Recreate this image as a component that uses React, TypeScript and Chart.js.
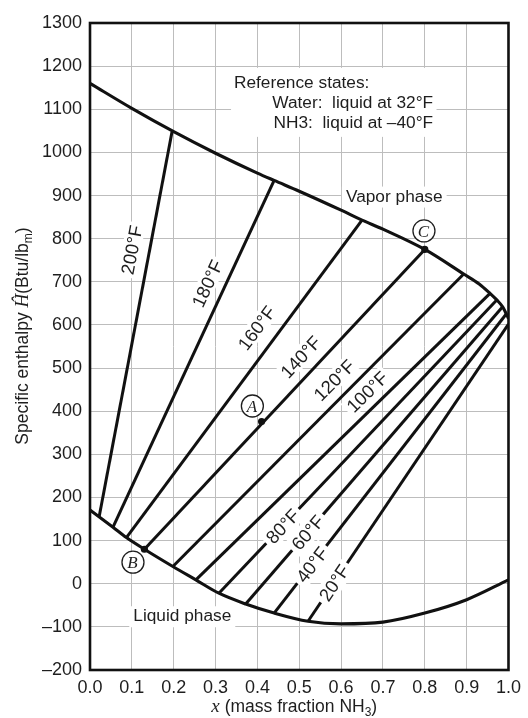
import React, { useEffect, useRef } from "react";
import { Chart, registerables } from "chart.js";

Chart.register(...registerables);

// ---- Data ----
const vaporX = [0, 0.1, 0.2, 0.3, 0.4, 0.44, 0.5, 0.6, 0.65, 0.7, 0.8, 0.893, 0.93, 0.956, 0.972, 0.986, 1.0];
const vaporY = [1160, 1102, 1048, 998, 952, 935, 910, 866, 843, 822, 775, 718, 695, 673, 658, 642, 615];

const liquidX = [0, 0.055, 0.087, 0.13, 0.198, 0.253, 0.308, 0.372, 0.44, 0.521, 0.6, 0.7, 0.8, 0.9, 1.0];
const liquidY = [171, 131, 107, 80, 40, 9, -22, -47, -68, -87, -93, -89, -68, -37, 9];

const tieTemps = ["200°F", "180°F", "160°F", "140°F", "120°F", "100°F", "80°F", "60°F", "40°F", "20°F"];
const tieLiqX = [0.022, 0.055, 0.087, 0.13, 0.198, 0.253, 0.308, 0.372, 0.44, 0.521];
const tieLiqY = [156, 131, 107, 80, 40, 9, -22, -47, -68, -87];
const tieVapX = [0.196, 0.44, 0.65, 0.8, 0.893, 0.956, 0.972, 0.986, 0.996, 1.0];
const tieVapY = [1048, 935, 843, 775, 718, 673, 658, 642, 627, 602];

const stateNames = ["A", "B", "C"];
const stateX = [0.41, 0.13, 0.8];
const stateY = [376, 80, 775];

const refTitle = "Reference states:";
const refLines = ["Water:  liquid at 32°F", "NH3:  liquid at \u201340°F"];
const vaporText = "Vapor phase";
const liquidText = "Liquid phase";

// ---- Annotation placement (data coordinates) ----
const sideLabelPos = [
  { i: 0, x: 0.099, y: 774 },
  { i: 1, x: 0.28, y: 696 },
  { i: 2, x: 0.398, y: 593 },
  { i: 3, x: 0.503, y: 526 },
  { i: 4, x: 0.583, y: 472 },
  { i: 5, x: 0.662, y: 445 },
];
const onLineLabelPos = [
  { i: 6, x: 0.46 },
  { i: 7, x: 0.52 },
  { i: 8, x: 0.53 },
  { i: 9, x: 0.583 },
];
const circlePos = [
  { x: 0.388, y: 412 },
  { x: 0.1027, y: 50 },
  { x: 0.798, y: 818 },
];

const SANS = "'Liberation Sans', Arial, Helvetica, sans-serif";
const SERIF = "'Liberation Serif', 'Times New Roman', serif";
const TEXT = "#1e1e1e";

function rotLabel(ctx: CanvasRenderingContext2D, text: string, cx: number, cy: number, ang: number, pad: number) {
  ctx.save();
  ctx.translate(cx, cy);
  ctx.rotate(ang);
  ctx.font = `18.5px ${SANS}`;
  const w = ctx.measureText(text).width;
  const h = 13;
  ctx.fillStyle = "#fff";
  ctx.fillRect(-w / 2 - pad, -h / 2 - pad, w + 2 * pad, h + 2 * pad);
  ctx.fillStyle = TEXT;
  ctx.textAlign = "center";
  ctx.textBaseline = "alphabetic";
  ctx.fillText(text, 0, 6.6);
  ctx.restore();
}

function tieAngle(xs: any, ys: any, i: number) {
  const x1 = xs.getPixelForValue(tieLiqX[i]);
  const y1 = ys.getPixelForValue(tieLiqY[i]);
  const x2 = xs.getPixelForValue(tieVapX[i]);
  const y2 = ys.getPixelForValue(tieVapY[i]);
  return Math.atan2(y2 - y1, x2 - x1);
}

type Part = { t: string; font: string; dy?: number };
function drawParts(ctx: CanvasRenderingContext2D, parts: Part[], cx: number, baseY: number) {
  let total = 0;
  const widths = parts.map((p) => {
    ctx.font = p.font;
    const w = ctx.measureText(p.t).width;
    total += w;
    return w;
  });
  let x = cx - total / 2;
  ctx.textAlign = "left";
  ctx.textBaseline = "alphabetic";
  parts.forEach((p, k) => {
    ctx.font = p.font;
    ctx.fillText(p.t, x, baseY + (p.dy || 0));
    x += widths[k];
  });
}

const annotPlugin = {
  id: "annot",
  beforeDatasetsDraw(chart: any) {
    const { ctx, scales } = chart;
    const xs = scales.x;
    const ys = scales.y;
    ctx.save();
    // Reference states box
    const bx1 = xs.getPixelForValue(0.337);
    const bx2 = xs.getPixelForValue(0.828);
    const by1 = ys.getPixelForValue(1196);
    const by2 = ys.getPixelForValue(1036);
    ctx.fillStyle = "#fff";
    ctx.fillRect(bx1, by1, bx2 - bx1, by2 - by1);
    ctx.fillStyle = TEXT;
    ctx.font = `17.3px ${SANS}`;
    ctx.textBaseline = "alphabetic";
    ctx.textAlign = "left";
    ctx.fillText(refTitle, xs.getPixelForValue(0.344), ys.getPixelForValue(1150));
    ctx.textAlign = "right";
    ctx.fillText(refLines[0], xs.getPixelForValue(0.82), ys.getPixelForValue(1104));
    ctx.fillText(refLines[1], xs.getPixelForValue(0.82), ys.getPixelForValue(1056));

    // Phase labels
    const phase = (text: string, cxv: number, byv: number) => {
      ctx.font = `17.3px ${SANS}`;
      const w = ctx.measureText(text).width;
      const cx = xs.getPixelForValue(cxv);
      const by = ys.getPixelForValue(byv);
      ctx.fillStyle = "#fff";
      ctx.fillRect(cx - w / 2 - 4, by - 15, w + 8, 21);
      ctx.fillStyle = TEXT;
      ctx.textAlign = "center";
      ctx.fillText(text, cx, by);
    };
    phase(vaporText, 0.727, 886);
    phase(liquidText, 0.2205, -87);

    // Side labels of tie lines
    sideLabelPos.forEach((p) => {
      const ang = tieAngle(xs, ys, p.i);
      rotLabel(ctx, tieTemps[p.i], xs.getPixelForValue(p.x), ys.getPixelForValue(p.y), ang, 3);
    });
    ctx.restore();
  },
  afterDatasetsDraw(chart: any) {
    const { ctx, scales } = chart;
    const xs = scales.x;
    const ys = scales.y;
    ctx.save();
    onLineLabelPos.forEach((p) => {
      const i = p.i;
      const t = (p.x - tieLiqX[i]) / (tieVapX[i] - tieLiqX[i]);
      const yv = tieLiqY[i] + t * (tieVapY[i] - tieLiqY[i]);
      const ang = tieAngle(xs, ys, i);
      rotLabel(ctx, tieTemps[i], xs.getPixelForValue(p.x), ys.getPixelForValue(yv), ang, 4);
    });
    circlePos.forEach((c, k) => {
      const cx = xs.getPixelForValue(c.x);
      const cy = ys.getPixelForValue(c.y);
      ctx.beginPath();
      ctx.arc(cx, cy, 11, 0, Math.PI * 2);
      ctx.fillStyle = "#fff";
      ctx.fill();
      ctx.lineWidth = 1.3;
      ctx.strokeStyle = TEXT;
      ctx.stroke();
      ctx.fillStyle = TEXT;
      ctx.font = `italic 17px ${SERIF}`;
      ctx.textAlign = "center";
      ctx.textBaseline = "alphabetic";
      ctx.fillText(stateNames[k], cx - 0.5, cy + 6);
    });
    ctx.restore();
  },
  afterDraw(chart: any) {
    const { ctx, chartArea } = chart;
    ctx.save();
    ctx.strokeStyle = "#111";
    ctx.lineWidth = 2.6;
    ctx.strokeRect(chartArea.left, chartArea.top, chartArea.right - chartArea.left, chartArea.bottom - chartArea.top);

    ctx.fillStyle = TEXT;
    // x axis title
    drawParts(
      ctx,
      [
        { t: "x", font: `italic 19px ${SERIF}` },
        { t: " (mass fraction NH", font: `17.5px ${SANS}` },
        { t: "3", font: `12px ${SANS}`, dy: 4 },
        { t: ")", font: `17.5px ${SANS}` },
      ],
      (chartArea.left + chartArea.right) / 2 - 5,
      712
    );
    // y axis title
    ctx.translate(27.5, 336);
    ctx.rotate(-Math.PI / 2);
    drawParts(
      ctx,
      [
        { t: "Specific enthalpy ", font: `17.5px ${SANS}` },
        { t: "\u0124", font: `italic 19px ${SERIF}` },
        { t: "(Btu/lb", font: `17.5px ${SANS}` },
        { t: "m", font: `12px ${SANS}`, dy: 4 },
        { t: ")", font: `17.5px ${SANS}` },
      ],
      0,
      0
    );
    ctx.restore();
  },
};

export default function App() {
  const ref = useRef<HTMLCanvasElement>(null);
  useEffect(() => {
    const canvas = ref.current;
    if (!canvas) return;
    const line = { showLine: true, borderColor: "#111", pointRadius: 0, fill: false, borderCapStyle: "butt" };
    const datasets: any[] = [
      {
        ...line,
        label: "Vapor",
        data: vaporX.map((x, i) => ({ x, y: vaporY[i] })),
        borderWidth: 3.1,
        cubicInterpolationMode: "monotone",
      },
      {
        ...line,
        label: "Liquid",
        data: liquidX.map((x, i) => ({ x, y: liquidY[i] })),
        borderWidth: 3.1,
        cubicInterpolationMode: "monotone",
      },
    ];
    tieTemps.forEach((t, i) => {
      datasets.push({
        ...line,
        label: t,
        data: [
          { x: tieLiqX[i], y: tieLiqY[i] },
          { x: tieVapX[i], y: tieVapY[i] },
        ],
        borderWidth: 3.0,
      });
    });
    datasets.push({
      label: "States",
      data: stateX.map((x, i) => ({ x, y: stateY[i] })),
      showLine: false,
      pointRadius: 3.6,
      backgroundColor: "#111",
      borderColor: "#111",
      borderWidth: 0,
    });

    const gridOpts = { color: "#bdbdbd", lineWidth: 1, drawTicks: false };
    const chart = new Chart(canvas, {
      type: "scatter",
      data: { datasets },
      options: {
        responsive: false,
        animation: false,
        devicePixelRatio: 1,
        layout: { padding: { top: 23, right: 17, left: 0, bottom: 0 } },
        plugins: { legend: { display: false }, tooltip: { enabled: false } },
        scales: {
          x: {
            type: "linear",
            min: 0,
            max: 1,
            afterFit: (s: any) => {
              s.height = 48;
            },
            ticks: {
              stepSize: 0.1,
              padding: 7,
              color: TEXT,
              font: { family: SANS, size: 18 },
              callback: (v: any) => Number(v).toFixed(1),
            },
            grid: gridOpts,
            border: { display: false },
          },
          y: {
            type: "linear",
            min: -200,
            max: 1300,
            afterFit: (s: any) => {
              s.width = 90;
            },
            ticks: {
              stepSize: 100,
              padding: 8,
              color: TEXT,
              font: { family: SANS, size: 18 },
              callback: (v: any) => (Number(v) < 0 ? "\u2013" + Math.abs(Number(v)) : String(v)),
            },
            grid: gridOpts,
            border: { display: false },
          },
        },
      },
      plugins: [annotPlugin],
    } as any);
    return () => chart.destroy();
  }, []);
  return (
    <div style={{ position: "absolute", left: 0, top: 0, width: 528, height: 718, background: "#fff" }}>
      <canvas ref={ref} width={528} height={718} style={{ display: "block" }} />
    </div>
  );
}
